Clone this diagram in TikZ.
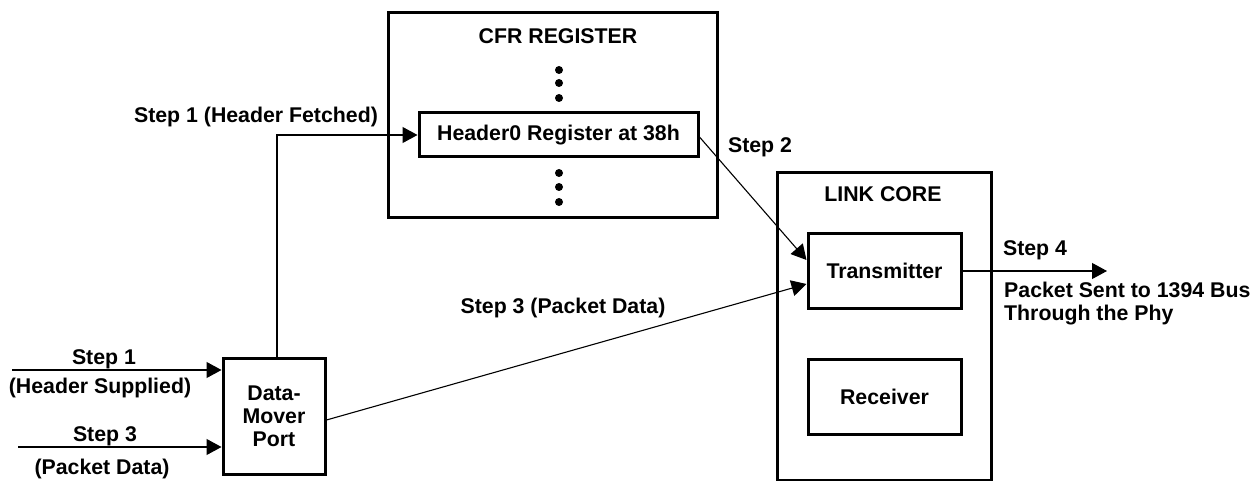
\documentclass[tikz,border=0pt]{standalone}
\usepackage{fontspec}
\setmainfont{Liberation Sans}
\usetikzlibrary{arrows.meta}
\begin{document}
\begin{tikzpicture}[x=1pt,y=1pt]
\tikzstyle{every node}+=[inner sep=0pt,font=\fontsize{21.3}{23}\selectfont\bfseries]
\tikzstyle{blk}=[draw=black,line width=3pt,rectangle]
\tikzstyle{wire}=[draw=black,line width=1.1pt,-{Triangle[length=15pt,width=16pt]}]
\useasboundingbox (0,0) rectangle (1256,-481);
\node [blk,minimum width=329,minimum height=205] (cfr) at (552.5,-115) {};
\node [anchor=base] (cfrname) at (558,-44) {CFR REGISTER};
\node [blk,minimum width=279,minimum height=44] (hdr) at (558.5,-135) {Header0 Register at 38h};
\foreach \y in {70,83,98,173,187,202}
  \fill [black] (559,-\y) circle (4);
\node [blk,minimum width=214,minimum height=307] (link) at (884,-326.5) {};
\node [anchor=base] (linkname) at (883,-202) {LINK CORE};
\node [blk,minimum width=153,minimum height=74] (tx) at (884.5,-271) {Transmitter};
\node [blk,minimum width=153,minimum height=75] (rx) at (884.5,-396.5) {Receiver};
\node [blk,minimum width=102,minimum height=116,align=center] (dmp) at (274,-416) {Data-\\Mover\\Port};
\coordinate (in1) at (12,-370);
\coordinate (in3) at (18,-447);
\coordinate (bus) at (1107,-271);
\draw [wire] (in1) -- (in1 -| dmp.west);
\draw [wire] (in3) -- (in3 -| dmp.west);
\draw [wire] ([xshift=3pt]dmp.north) |- (hdr.west);
\draw [wire] ([yshift=-2pt]hdr.east) -- ([yshift=11pt]tx.west);
\draw [wire] ([yshift=-4pt]dmp.east) -- ([yshift=-13pt]tx.west);
\draw [wire] (tx.east) -- (bus);
\node [anchor=base] (lbin1) at (104,-364) {Step 1};
\node [anchor=base] (lbin1b) at (100,-393) {(Header Supplied)};
\node [anchor=base] (lbin3) at (105,-441) {Step 3};
\node [anchor=base] (lbin3b) at (102,-474) {(Packet Data)};
\node [anchor=base] (lbfetch) at (256,-123) {Step 1 (Header Fetched)};
\node [anchor=base] (lbstep2) at (760,-153) {Step 2};
\node [anchor=base] (lbstep3) at (563,-313) {Step 3 (Packet Data)};
\node [anchor=base] (lbstep4) at (1035,-256) {Step 4};
\node [anchor=west,align=left] (lbbus) at (1004,-304) {Packet Sent to 1394 Bus\\Through the Phy};
\end{tikzpicture}
\end{document}
